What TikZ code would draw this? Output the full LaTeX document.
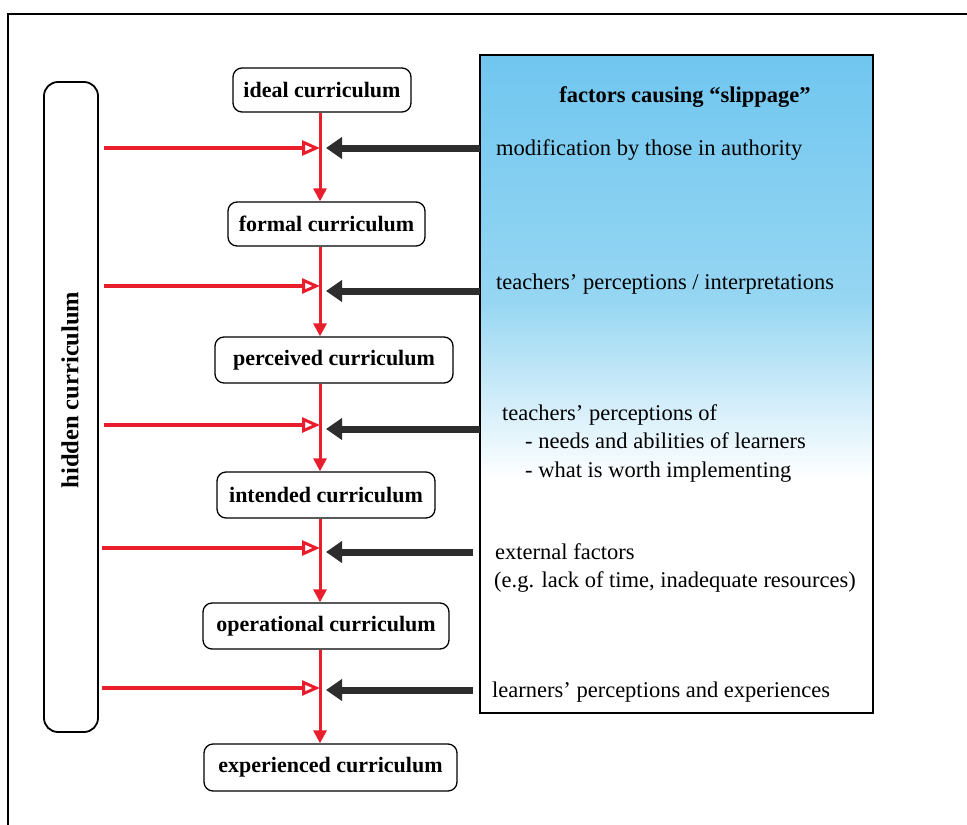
\documentclass[tikz,border=0pt]{standalone}
\usepackage{fontspec}
\setmainfont{Liberation Serif}
\usetikzlibrary{arrows.meta}
\definecolor{myred}{RGB}{232,30,45}
\definecolor{myblack}{RGB}{45,45,45}
\definecolor{skyb}{RGB}{112,198,240}
\definecolor{skym}{RGB}{150,214,242}
\begin{document}
\begin{tikzpicture}[x=1pt,y=-1pt,
  cur/.style={draw, line width=1.3pt, rounded corners=9pt, inner sep=0pt, font=\fontsize{22}{26}\bfseries\selectfont},
  ftxt/.style={anchor=base west, inner sep=0pt, font=\fontsize{22.5}{27}\selectfont},
  redarr/.style={draw=myred, line width=3pt, -{Triangle[length=13pt,width=13pt]}},
  hidarr/.style={draw=myred, line width=3.5pt, -{Triangle[open,length=18pt,width=15pt,line width=3pt]}},
  blkarr/.style={draw=myblack, line width=7pt, -{Triangle[length=16pt,width=21pt]}},
]
\useasboundingbox (0,0) rectangle (967,825);
\fill[white] (0,0) rectangle (967,825);
\draw[line width=2pt] (967,14) -- (8,14) -- (8,825);

% factors box
\shade[top color=skyb, bottom color=skym] (480,55) rectangle (873,300);
\shade[top color=skym, bottom color=white] (480,299.5) rectangle (873,480);
\node (fbox) [draw, line width=1.5pt, minimum width=393pt, minimum height=658pt, inner sep=0pt] at (676.5,384) {};

\node[ftxt, anchor=base, font=\fontsize{22.5}{27}\bfseries\selectfont] (title) at (685,102) {factors causing “slippage”};
\node[ftxt] (f1) at (496,155) {modification by those in authority};
\node[ftxt] (f2) at (496,289) {teachers’ perceptions / interpretations};
\node[ftxt] (f3a) at (502,420) {teachers’ perceptions of};
\node[ftxt] (f3b) at (525,448) {- needs and abilities of learners};
\node[ftxt] (f3c) at (525,477) {- what is worth implementing};
\node[ftxt] (f4a) at (495,559) {external factors};
\node[ftxt] (f4b) at (494,587) {(e.g. lack of time, inadequate resources)};
\node[ftxt] (f5) at (492,697) {learners’ perceptions and experiences};

% hidden curriculum
\node (hid) [draw, line width=1.8pt, rounded corners=14pt, minimum width=54pt, minimum height=650pt, inner sep=0pt] at (71,407) {};
\node (hidtxt) [rotate=90, inner sep=0pt, font=\fontsize{24.5}{28}\bfseries\selectfont] at (70,390) {hidden curriculum};

% curriculum boxes
\node[cur, minimum width=178pt, minimum height=44pt] (ideal) at (322,90) {ideal curriculum};
\node[cur, minimum width=197pt, minimum height=44pt] (formal) at (326.5,224) {formal curriculum};
\node[cur, minimum width=238pt, minimum height=46pt] (perc) at (334,360) {perceived curriculum};
\node[cur, minimum width=218pt, minimum height=46pt] (inten) at (326,495) {intended curriculum};
\node[cur, minimum width=246pt, minimum height=46pt] (oper) at (326,626) {operational curriculum};
\node[cur, minimum width=253pt, minimum height=47pt] (exper) at (330.5,767.5) {experienced curriculum};

\coordinate (vline) at (320,0);
\coordinate (vtip) at (326,0);

\draw[redarr] (ideal.south -| vline) -- (formal.north -| vline);
\draw[redarr] (formal.south -| vline) -- (perc.north -| vline);
\draw[redarr] (perc.south -| vline) -- (inten.north -| vline);
\draw[redarr] (inten.south -| vline) -- (oper.north -| vline);
\draw[redarr] (oper.south -| vline) -- (exper.north -| vline);

\coordinate (h1) at (104,148);
\coordinate (h2) at (104,286);
\coordinate (h3) at (104,425);
\coordinate (h4) at (102,548);
\coordinate (h5) at (102,688);
\foreach \h in {h1,h2,h3,h4,h5}
  \draw[hidarr] (\h) -- (\h -| vline);

\coordinate (b1) at (480,148);
\coordinate (b2) at (480,291);
\coordinate (b3) at (480,429);
\coordinate (b4) at (473,552);
\coordinate (b5) at (473,690);
\foreach \b in {b1,b2,b3,b4,b5}
  \draw[blkarr] (\b) -- (\b -| vtip);
\end{tikzpicture}
\end{document}
